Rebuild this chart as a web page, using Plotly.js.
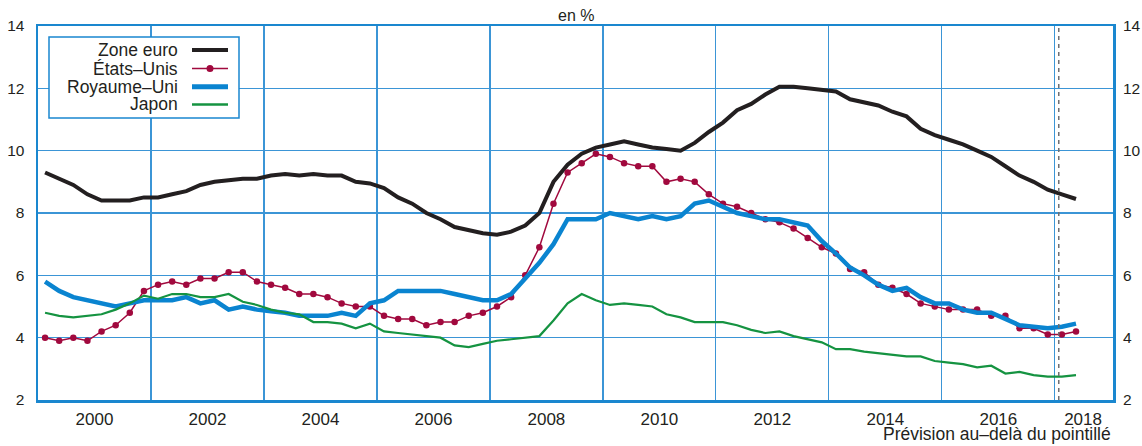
<!DOCTYPE html>
<html>
<head>
<meta charset="utf-8">
<script src="https://cdn.plot.ly/plotly-3.0.1.min.js"></script>
<style>
html,body{margin:0;padding:0;background:#fff;}
#chart{width:1142px;height:446px;}
</style>
</head>
<body>
<div id="chart"></div>
<script>
// Quarterly unemployment rates (%), 2000T1 to 2018T2
const firstYear = 2000;
const nQuarters = 74;
const zoneEuro = [9.3,9.1,8.9,8.6,8.4,8.4,8.4,8.5,8.5,8.6,
  8.7,8.9,9.0,9.05,9.1,9.1,9.2,9.25,9.2,9.25,
  9.2,9.2,9.0,8.95,8.8,8.5,8.3,8.0,7.8,7.55,
  7.45,7.35,7.3,7.4,7.6,8.0,9.0,9.55,9.9,10.1,
  10.2,10.3,10.2,10.1,10.05,10.0,10.25,10.6,10.9,11.3,
  11.5,11.8,12.05,12.05,12.0,11.95,11.9,11.65,11.55,11.45,
  11.25,11.1,10.7,10.5,10.35,10.2,10.0,9.8,9.5,9.2,
  9.0,8.75,8.6,8.45];
const etatsUnis = [4.0,3.9,4.0,3.9,4.2,4.4,4.8,5.5,5.7,5.8,
  5.7,5.9,5.9,6.1,6.1,5.8,5.7,5.6,5.4,5.4,
  5.3,5.1,5.0,5.0,4.7,4.6,4.6,4.4,4.5,4.5,
  4.7,4.8,5.0,5.3,6.0,6.9,8.3,9.3,9.6,9.9,
  9.8,9.6,9.5,9.5,9.0,9.1,9.0,8.6,8.3,8.2,
  8.0,7.8,7.7,7.5,7.2,6.9,6.7,6.2,6.1,5.7,
  5.6,5.4,5.1,5.0,4.9,4.9,4.9,4.7,4.7,4.3,
  4.3,4.1,4.1,4.2];
const royaumeUni = [5.8,5.5,5.3,5.2,5.1,5.0,5.1,5.2,5.2,5.2,
  5.3,5.1,5.2,4.9,5.0,4.9,4.85,4.8,4.7,4.7,
  4.7,4.8,4.7,5.1,5.2,5.5,5.5,5.5,5.5,5.4,
  5.3,5.2,5.2,5.4,5.9,6.4,7.0,7.8,7.8,7.8,
  8.0,7.9,7.8,7.9,7.8,7.9,8.3,8.4,8.2,8.0,
  7.9,7.8,7.8,7.7,7.6,7.1,6.7,6.25,6.0,5.7,
  5.5,5.6,5.3,5.1,5.1,4.9,4.8,4.8,4.6,4.4,
  4.35,4.3,4.35,4.45];
const japon = [4.8,4.7,4.65,4.7,4.75,4.9,5.1,5.35,5.25,5.4,
  5.4,5.3,5.3,5.4,5.15,5.05,4.9,4.8,4.75,4.5,
  4.5,4.45,4.3,4.45,4.2,4.15,4.1,4.05,4.0,3.75,
  3.7,3.8,3.9,3.95,4.0,4.05,4.55,5.1,5.4,5.2,
  5.05,5.1,5.05,5.0,4.75,4.65,4.5,4.5,4.5,4.4,
  4.25,4.15,4.2,4.05,3.95,3.85,3.63,3.63,3.55,3.5,
  3.45,3.4,3.4,3.25,3.2,3.15,3.05,3.1,2.85,2.9,
  2.8,2.75,2.75,2.8];
const tickLabels = ['2000','2002','2004','2006','2008','2010','2012','2014','2016','2018'];
const tickPositions = [2001,2003,2005,2007,2009,2011,2013,2015,2017,2018.5];
const gridYears = [2002,2004,2006,2008,2010,2012,2014,2016,2018];
const forecastStart = 2018.07;

// quarter midpoints as decimal years
const quarters = [];
for (let i = 0; i < nQuarters; i++) {
  const y = firstYear + Math.floor(i / 4), q = (i % 4) + 1;
  quarters.push(y + (q - 0.5) / 4);
}

const FONT = '"Liberation Sans", Arial, Helvetica, sans-serif';
const TXT = '#231f20';
const GRID = '#3b95d6';
const FRAME = '#1a87cf';
const C_EURO = '#231f20', C_US = '#a1093e', C_UK = '#0a84d0', C_JP = '#159341';

const traces = [
  {x: quarters, y: zoneEuro, type: 'scatter', mode: 'lines', name: 'Zone euro',
   line: {color: C_EURO, width: 4}},
  {x: quarters, y: etatsUnis, type: 'scatter', mode: 'lines+markers', name: 'États–Unis',
   line: {color: C_US, width: 1.5}, marker: {color: C_US, size: 6.5}},
  {x: quarters, y: royaumeUni, type: 'scatter', mode: 'lines', name: 'Royaume–Uni',
   line: {color: C_UK, width: 4.5}},
  {x: quarters, y: japon, type: 'scatter', mode: 'lines', name: 'Japon', yaxis: 'y2',
   line: {color: C_JP, width: 2.2}}
];

// plot area in pixels
const L = 38, R = 1113, T = 26, B = 400;
const px = x => (x - L) / (R - L);
const py = y => (B - y) / (B - T);

const legendRows = [
  {name: 'Zone euro', color: C_EURO, width: 4, y: 50},
  {name: 'États–Unis', color: C_US, width: 1.5, y: 68.5, dot: true},
  {name: 'Royaume–Uni', color: C_UK, width: 5, y: 86.7},
  {name: 'Japon', color: C_JP, width: 2.5, y: 104.5}
];

const shapes = [
  {type: 'line', xref: 'x', yref: 'paper', x0: forecastStart, x1: forecastStart, y0: 0, y1: 1,
   line: {color: '#6d6e71', width: 1.5, dash: '4px,4px'}},
  {type: 'rect', xref: 'paper', yref: 'paper', x0: px(49), x1: px(239), y0: py(118), y1: py(37),
   fillcolor: '#ffffff', line: {color: FRAME, width: 1.5}, layer: 'above'}
];
const annotations = [
  {xref: 'paper', yref: 'paper', x: px(575.5), y: py(15), text: 'en %', showarrow: false,
   xanchor: 'center', yanchor: 'middle', font: {family: FONT, size: 16, color: TXT}},
  {xref: 'paper', yref: 'paper', x: px(1113), y: py(434), text: 'Prévision au–delà du pointillé', showarrow: false,
   xanchor: 'right', yanchor: 'middle', font: {family: FONT, size: 17.5, color: TXT}}
];
legendRows.forEach(r => {
  shapes.push({type: 'line', xref: 'paper', yref: 'paper', x0: px(192), x1: px(228), y0: py(r.y), y1: py(r.y),
    line: {color: r.color, width: r.width}, layer: 'above'});
  if (r.dot) shapes.push({type: 'circle', xref: 'paper', yref: 'paper', x0: px(206.5), x1: px(213.5),
    y0: py(r.y + 3.5), y1: py(r.y - 3.5), fillcolor: r.color, line: {color: r.color, width: 0}, layer: 'above'});
  annotations.push({xref: 'paper', yref: 'paper', x: px(180), y: py(r.y), text: r.name, showarrow: false,
    xanchor: 'right', yanchor: 'middle', font: {family: FONT, size: 17.5, color: TXT}});
});

const layout = {
  width: 1142, height: 446,
  margin: {l: L, r: 1142 - R, t: T, b: 446 - B, pad: 0},
  paper_bgcolor: '#ffffff', plot_bgcolor: '#ffffff',
  showlegend: false,
  font: {family: FONT, color: TXT},
  xaxis: {
    range: [2000, 2019.03], tickmode: 'array', tickvals: tickPositions, ticktext: tickLabels,
    showgrid: false, zeroline: false, showline: true, mirror: true, linecolor: FRAME, linewidth: 2.5,
    ticks: '', ticklabelstandoff: 2, tickfont: {family: FONT, size: 17, color: TXT},
    minor: {tickmode: 'array', tickvals: gridYears, showgrid: true, gridcolor: GRID, gridwidth: 1.2, ticks: ''}
  },
  yaxis: {
    range: [2, 14], tickmode: 'linear', tick0: 2, dtick: 2,
    showgrid: true, gridcolor: GRID, gridwidth: 1.2, zeroline: false,
    showline: true, mirror: true, linecolor: FRAME, linewidth: 2.5,
    ticks: '', ticklabelstandoff: 8, tickfont: {family: FONT, size: 15.5, color: TXT}
  },
  yaxis2: {
    range: [2, 14], tickmode: 'linear', tick0: 2, dtick: 2, overlaying: 'y', side: 'right',
    showgrid: false, zeroline: false, showline: false, ticks: '', ticklabelstandoff: 9,
    tickfont: {family: FONT, size: 15.5, color: TXT}
  },
  shapes: shapes,
  annotations: annotations
};

Plotly.newPlot('chart', traces, layout, {staticPlot: true, displayModeBar: false});
</script>
</body>
</html>
